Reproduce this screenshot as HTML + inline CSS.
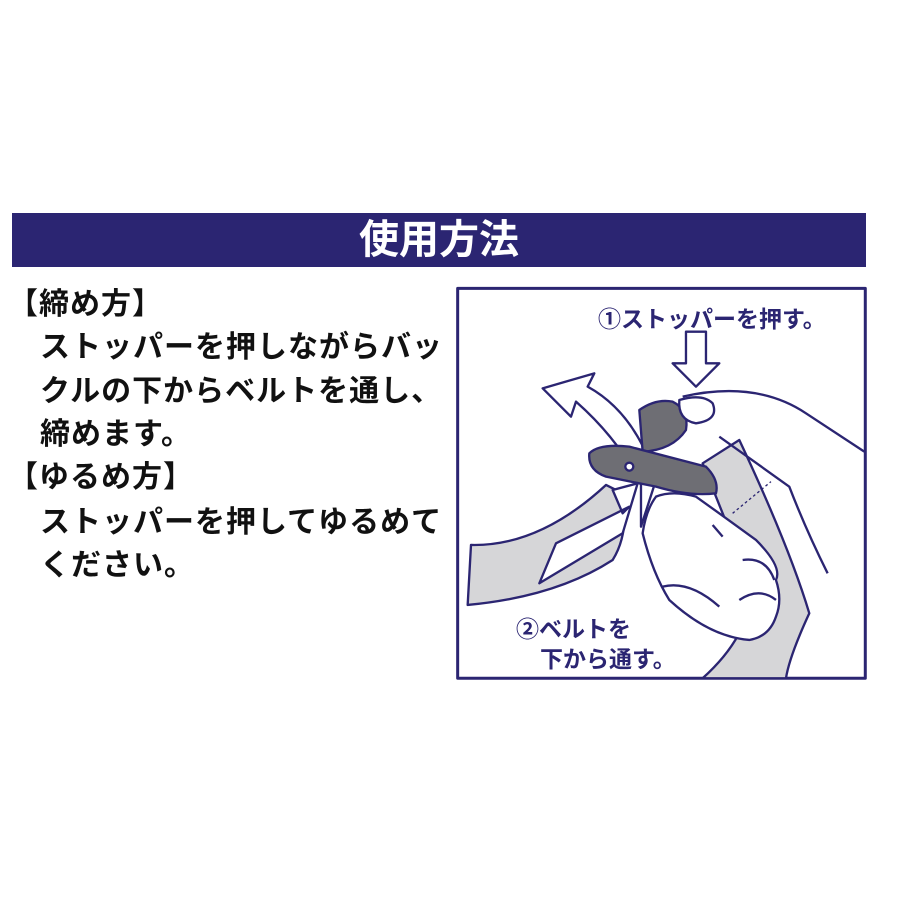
<!DOCTYPE html>
<html><head><meta charset="utf-8"><style>
body{margin:0;width:900px;height:900px;background:#fff;position:relative;overflow:hidden;font-family:"Liberation Sans","Noto Sans CJK JP",sans-serif;}
.bar{position:absolute;left:12px;top:213px;width:854px;height:54px;background:#2b2572;color:#fff;font-size:40px;font-weight:bold;text-align:center;line-height:54px;}
.t{position:absolute;font-size:30px;font-weight:bold;color:#111;white-space:nowrap;letter-spacing:1px}
</style></head><body>
<div class="bar">使用方法</div>
<div class="t" style="left:8px;top:279px">【締め方】</div>
<div class="t" style="left:40px;top:322px">ストッパーを押しながらバッ</div>
<div class="t" style="left:40px;top:366px">クルの下からベルトを通し、</div>
<div class="t" style="left:40px;top:409px">締めます。</div>
<div class="t" style="left:8px;top:452px">【ゆるめ方】</div>
<div class="t" style="left:40px;top:497px">ストッパーを押してゆるめて</div>
<div class="t" style="left:40px;top:540px">ください。</div>
<svg width="900" height="900" style="position:absolute;left:0;top:0">
<g transform="translate(456,280) scale(0.3333)" stroke="#2b2572" stroke-width="7" fill="none" stroke-linejoin="round">
<rect x="5" y="25" width="1223" height="1170" stroke-width="9"/>
<!-- left belt -->
<path d="M45,795 Q250,800 450,615 L500,640 Q520,760 470,840 Q300,950 35,975 Z" fill="#d6d6d8"/>
<!-- right belt -->
<path d="M740,550 L850,480 Q1000,800 1060,1000 Q1000,1130 990,1195 L740,1195 Q900,1050 880,900 Q800,700 740,550 Z" fill="#d6d6d8"/>
<path d="M830,700 L945,605" stroke-dasharray="8,8" stroke-width="4"/>
<!-- up arrow (back) -->
<path d="M555,740 L555,615 Q490,480 360,365 L345,410 L260,325 L415,280 L395,320 Q540,400 600,600 Z" fill="#fff"/>
<!-- hand top fingers/arm -->
<path d="M680,350 Q900,300 1050,400 L1225,515 M790,470 L1000,620 Q1050,750 1115,880" />
<!-- buckle -->
<path d="M550,390 Q600,355 650,365 Q700,390 690,450 Q650,510 560,515 Z" fill="#6e6e74"/>
<path d="M400,520 Q430,490 520,500 L750,560 Q790,600 780,640 Q700,650 600,620 L450,590 Q395,570 400,520 Z" fill="#6e6e74"/>
<circle cx="520" cy="560" r="12" fill="#fff"/>
<!-- thumb -->
<path d="M670,360 Q740,340 770,370 Q790,420 720,430 Q665,420 670,360 Z" fill="#fff"/>
<!-- lower hand -->
<path d="M600,650 Q650,630 720,650 Q790,700 900,780 Q980,860 960,900 Q980,960 960,1010 Q940,1070 880,1080 Q760,1070 640,960 Q590,880 560,760 Q570,690 600,650 Z" fill="#fff"/>
<path d="M860,840 Q930,830 955,900 M850,960 Q910,920 960,960 M620,920 Q700,900 790,980 M770,735 L800,770"/>
<!-- down arrow -->
<path d="M690,155 L750,155 L750,250 L790,250 L720,320 L650,250 L690,250 Z" fill="#fff"/>
<!-- lower arrow -->
<path d="M470,630 L500,700 L520,680 L300,790 L250,910 L500,760 L545,610 Z" fill="#fff"/>
</g>
<text x="598" y="327" font-size="23" font-weight="bold" fill="#2b2572" font-family="Liberation Sans,Noto Sans CJK JP,sans-serif">①ストッパーを押す。</text>
<text x="516" y="637" font-size="23" font-weight="bold" fill="#2b2572" font-family="Liberation Sans,Noto Sans CJK JP,sans-serif">②ベルトを</text>
<text x="540" y="667" font-size="23" font-weight="bold" fill="#2b2572" font-family="Liberation Sans,Noto Sans CJK JP,sans-serif">下から通す。</text>
</svg>
</body></html>
